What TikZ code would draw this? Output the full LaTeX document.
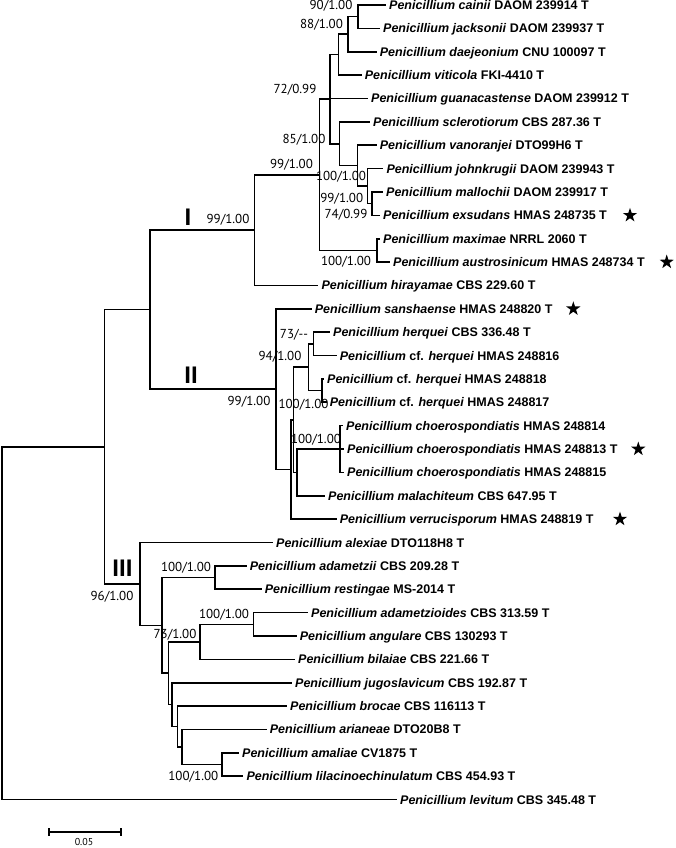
\documentclass[tikz,border=0pt]{standalone}
\usepackage{fontspec}
\setmainfont{Liberation Sans}
\newfontfamily\supportfont{PT Sans}
\usepackage{tikz}
\usetikzlibrary{shapes.geometric}
\newcommand{\Pen}{\textit{Penicillium}}

\begin{document}
\begin{tikzpicture}[x=1pt,y=-1pt,
  branch/.style={line width=1.6pt},
  taxon/.style={anchor=west,inner sep=3pt,text height=9pt,text depth=0pt,font=\fontsize{12.5}{14}\selectfont\bfseries},
  support/.style={inner sep=0pt,font=\supportfont\fontsize{13}{13}\selectfont},
  clade/.style={inner sep=0pt,font=\fontsize{24}{24}\selectfont\bfseries},
  starmark/.style={star,star points=5,star point ratio=2.6,fill=black,inner sep=0pt,minimum size=15pt}]
\useasboundingbox (0,0) rectangle (675,848);
% taxa
\node[taxon] (t0) at (386,5) {\Pen{} \textit{cainii} DAOM 239914 T};
\node[taxon] (t1) at (380,28.37) {\Pen{} \textit{jacksonii} DAOM 239937 T};
\node[taxon] (t2) at (376.7,51.74) {\Pen{} \textit{daejeonium} CNU 100097 T};
\node[taxon] (t3) at (361.7,75.11) {\Pen{} \textit{viticola} FKI-4410 T};
\node[taxon] (t4) at (368,98.48) {\Pen{} \textit{guanacastense} DAOM 239912 T};
\node[taxon] (t5) at (370,121.85) {\Pen{} \textit{sclerotiorum} CBS 287.36 T};
\node[taxon] (t6) at (376.7,145.22) {\Pen{} \textit{vanoranjei} DTO99H6 T};
\node[taxon] (t7) at (383.3,168.59) {\Pen{} \textit{johnkrugii} DAOM 239943 T};
\node[taxon] (t8) at (383,191.96) {\Pen{} \textit{mallochii} DAOM 239917 T};
\node[taxon] (t9) at (380,215.33) {\Pen{} \textit{exsudans} HMAS 248735 T};
\node[taxon] (t10) at (380,238.7) {\Pen{} \textit{maximae} NRRL 2060 T};
\node[taxon] (t11) at (390,262.07) {\Pen{} \textit{austrosinicum} HMAS 248734 T};
\node[taxon] (t12) at (318.3,285.44) {\Pen{} \textit{hirayamae} CBS 229.60 T};
\node[taxon] (t13) at (311.7,308.81) {\Pen{} \textit{sanshaense} HMAS 248820 T};
\node[taxon] (t14) at (330,332.18) {\Pen{} \textit{herquei} CBS 336.48 T};
\node[taxon] (t15) at (336.7,355.55) {\Pen{} cf. \textit{herquei} HMAS 248816};
\node[taxon] (t16) at (324,378.92) {\Pen{} cf. \textit{herquei} HMAS 248818};
\node[taxon] (t17) at (326.7,402.29) {\Pen{} cf. \textit{herquei} HMAS 248817};
\node[taxon] (t18) at (343,425.66) {\Pen{} \textit{choerospondiatis} HMAS 248814};
\node[taxon] (t19) at (344,449.03) {\Pen{} \textit{choerospondiatis} HMAS 248813 T};
\node[taxon] (t20) at (344,472.4) {\Pen{} \textit{choerospondiatis} HMAS 248815};
\node[taxon] (t21) at (325,495.77) {\Pen{} \textit{malachiteum} CBS 647.95 T};
\node[taxon] (t22) at (336.7,519.14) {\Pen{} \textit{verrucisporum} HMAS 248819 T};
\node[taxon] (t23) at (273,542.51) {\Pen{} \textit{alexiae} DTO118H8 T};
\node[taxon] (t24) at (246.7,565.88) {\Pen{} \textit{adametzii} CBS 209.28 T};
\node[taxon] (t25) at (261.7,589.25) {\Pen{} \textit{restingae} MS-2014 T};
\node[taxon] (t26) at (308,612.62) {\Pen{} \textit{adametzioides} CBS 313.59 T};
\node[taxon] (t27) at (296.7,635.99) {\Pen{} \textit{angulare} CBS 130293 T};
\node[taxon] (t28) at (295,659.36) {\Pen{} \textit{bilaiae} CBS 221.66 T};
\node[taxon] (t29) at (292,682.73) {\Pen{} \textit{jugoslavicum} CBS 192.87 T};
\node[taxon] (t30) at (287,706.1) {\Pen{} \textit{brocae} CBS 116113 T};
\node[taxon] (t31) at (266.7,729.47) {\Pen{} \textit{arianeae} DTO20B8 T};
\node[taxon] (t32) at (239,752.84) {\Pen{} \textit{amaliae} CV1875 T};
\node[taxon] (t33) at (243.3,776.21) {\Pen{} \textit{lilacinoechinulatum} CBS 454.93 T};
\node[taxon] (t34) at (397,799.58) {\Pen{} \textit{levitum} CBS 345.48 T};
% internal nodes
\coordinate (n90) at (357.7,16.69);
\coordinate (n88) at (347.7,34.22);
\coordinate (nvit) at (338.3,54.67);
\coordinate (n74) at (371.7,203.65);
\coordinate (n99b) at (367.3,186.12);
\coordinate (n100a) at (357.3,165.67);
\coordinate (n85) at (339.3,143.76);
\coordinate (n72) at (330,99.2);
\coordinate (n100b) at (376.7,250.39);
\coordinate (n99c) at (319.3,174.8);
\coordinate (nI) at (254.3,230.12);
\coordinate (n73) at (313.3,343.87);
\coordinate (n100c) at (321.7,390.6);
\coordinate (n94) at (308.3,367.24);
\coordinate (nch) at (340,449.03);
\coordinate (nmal) at (296.7,472.4);
\coordinate (nD) at (293.3,419.82);
\coordinate (nF) at (290.7,469.48);
\coordinate (nII) at (275.7,389.15);
\coordinate (nA) at (150,309.6);
\coordinate (nam) at (221.7,764.5);
\coordinate (nari) at (181.7,747);
\coordinate (nbro) at (177.3,726.5);
\coordinate (njug) at (171.7,704.6);
\coordinate (nadz) at (253.3,624.3);
\coordinate (nbil) at (200,641.8);
\coordinate (n73b) at (168.3,673.2);
\coordinate (nadm) at (215,577.6);
\coordinate (n100d) at (161.7,625.4);
\coordinate (nIII) at (140,583.95);
\coordinate (nB) at (104.3,446.8);
\coordinate (root) at (2,623.2);
% branches
\draw[branch] (root) |- (nB) (root) |- (t34.west)
  (nB) |- (nA) (nB) |- (nIII)
  (nA) |- (nI) (nA) |- (nII);
\draw[branch] (nI) |- (n99c) (nI) |- (t12.west)
  (n99c) |- (n72) (n99c) |- (n100b)
  (n72) |- (nvit) (n72) |- (t4.west) (n72) |- (n85)
  (nvit) |- (n88) (nvit) |- (t3.west)
  (n88) |- (n90) (n88) |- (t2.west)
  (n90) |- (t0.west) (n90) |- (t1.west)
  (n85) |- (t5.west) (n85) |- (n100a)
  (n100a) |- (t6.west) (n100a) |- (n99b)
  (n99b) |- (t7.west) (n99b) |- (n74)
  (n74) |- (t8.west) (n74) |- (t9.west)
  (n100b) |- (t10.west) (n100b) |- (t11.west);
\draw[branch] (nII) |- (t13.west) (nII) |- (nF)
  (nF) |- (nD) (nF) |- (t22.west)
  (nD) |- (n94) (nD) |- (nmal)
  (n94) |- (n73) (n94) |- (n100c)
  (n73) |- (t14.west) (n73) |- (t15.west)
  (n100c) |- (t16.west) (n100c) |- (t17.west)
  (nmal) |- (nch) (nmal) |- (t21.west)
  (nch) |- (t18.west) (nch) |- (t19.west) (nch) |- (t20.west);
\draw[branch] (nIII) |- (t23.west) (nIII) |- (n100d)
  (n100d) |- (nadm) (n100d) |- (n73b)
  (nadm) |- (t24.west) (nadm) |- (t25.west)
  (n73b) |- (nbil) (n73b) |- (njug)
  (nbil) |- (nadz) (nbil) |- (t28.west)
  (nadz) |- (t26.west) (nadz) |- (t27.west)
  (njug) |- (t29.west) (njug) |- (nbro)
  (nbro) |- (t30.west) (nbro) |- (nari)
  (nari) |- (t31.west) (nari) |- (nam)
  (nam) |- (t32.west) (nam) |- (t33.west);
% support values
\node[support] (s90) at (331,6) {90/1.00};
\node[support] (s88) at (321.5,25) {88/1.00};
\node[support] (s72) at (295,90) {72/0.99};
\node[support] (s85) at (304,140) {85/1.00};
\node[support] (s99c) at (291.5,165) {99/1.00};
\node[support] (s100a) at (341,176.5) {100/1.00};
\node[support] (s99b) at (341.7,198.5) {99/1.00};
\node[support] (s74) at (346,215) {74/0.99};
\node[support] (s100b) at (346,262) {100/1.00};
\node[support] (sI) at (228,220) {99/1.00};
\node[support] (s73) at (294,334.5) {73/--};
\node[support] (s94) at (280,357) {94/1.00};
\node[support] (sII) at (249,402) {99/1.00};
\node[support] (s100c) at (303.5,405) {100/1.00};
\node[support] (sch) at (316,440) {100/1.00};
\node[support] (sIII) at (112,597) {96/1.00};
\node[support] (sadm) at (186,568) {100/1.00};
\node[support] (s73b) at (175,635) {73/1.00};
\node[support] (sadz) at (224,615) {100/1.00};
\node[support] (sam) at (193.3,776.7) {100/1.00};
% clades
\node[clade] (cI) at (188,217) {I};
\node[clade] (cII) at (191,375) {II};
\node[clade] (cIII) at (122.5,568.7) {III};
% new species
\node[starmark] (st9) at (630,215.33) {};
\node[starmark] (st11) at (666.7,262.07) {};
\node[starmark] (st13) at (573.3,308.81) {};
\node[starmark] (st19) at (638.3,449.03) {};
\node[starmark] (st22) at (620,519.14) {};
% scale
\coordinate (sbl) at (49,832);
\coordinate (sbr) at (121,832);
\draw[branch] (sbl) -- (sbr) (49,828) -- (49,836) (121,828) -- (121,836);
\node[support,font=\supportfont\fontsize{10}{10}\selectfont] (sblab) at (84,841.5) {0.05};
\end{tikzpicture}
\end{document}
